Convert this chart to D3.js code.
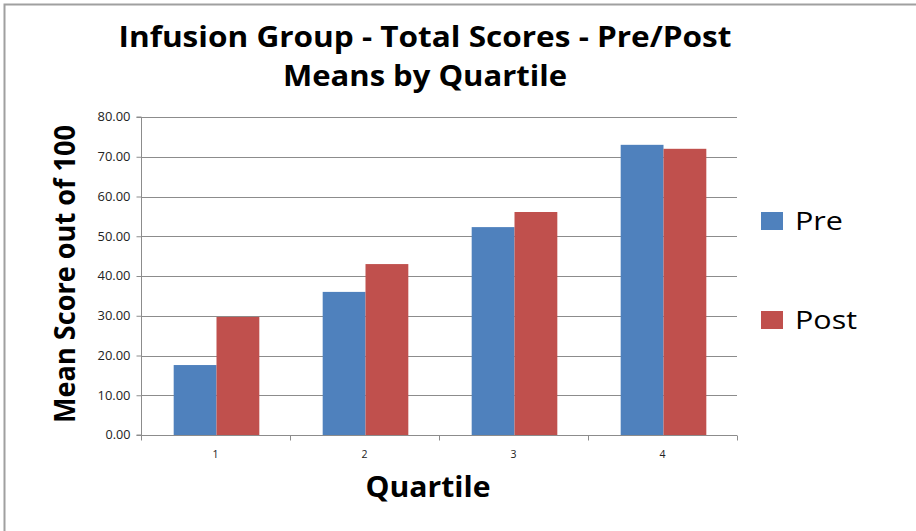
<!DOCTYPE html>
<html lang="en">
<head>
  <meta charset="UTF-8">
  <title>Infusion Group - Total Scores</title>
  <script src="https://cdn.jsdelivr.net/npm/d3@7/dist/d3.min.js"></script>
  <style>
    body { margin: 0; background: #fff; }
    text { font-family: "Open Sans", sans-serif; }
  </style>
</head>
<body>
  <div id="box"></div>
  <script>
    // data
    const quartiles = ['1', '2', '3', '4']
    const seriesNames = ['Pre', 'Post']
    const preScores = [17.6, 36.0, 52.3, 73.0]
    const postScores = [29.7, 43.0, 56.1, 72.0]
    const yTicks = [0, 10, 20, 30, 40, 50, 60, 70, 80]
    const colors = ['#4F81BD', '#C0504D']

    const width = 916
    const height = 531
    const margin = { left: 141, right: 179, top: 117, bottom: 96 }

    const svg = d3.select('#box').append('svg')
      .attr('width', width)
      .attr('height', height)

    // page frame
    svg.append('path')
      .attr('d', `M4.5,${height} V4.5 H${width}`)
      .attr('fill', 'none')
      .attr('stroke', '#a0a0a0')
      .attr('stroke-width', 2)

    const x = d3.scaleBand().domain(quartiles)
      .range([margin.left, width - margin.right])
    const inner = d3.scaleBand().domain(seriesNames)
      .range([0, x.bandwidth()]).paddingOuter(0.74)
    const y = d3.scaleLinear().domain([0, 80])
      .range([height - margin.bottom, margin.top])

    // gridlines
    svg.append('g').selectAll('line')
      .data(yTicks.slice(1))
      .join('line')
      .attr('x1', margin.left).attr('x2', width - margin.right)
      .attr('y1', d => Math.round(y(d)) + 0.5).attr('y2', d => Math.round(y(d)) + 0.5)
      .attr('stroke', '#8c8c8c')

    // bars
    const rows = quartiles.map((q, i) => ({ q, values: [preScores[i], postScores[i]] }))
    const groups = svg.append('g').selectAll('g')
      .data(rows)
      .join('g')
      .attr('transform', d => `translate(${x(d.q) + 1},0)`)
    groups.selectAll('rect')
      .data(d => d.values.map((v, j) => ({ name: seriesNames[j], v, j })))
      .join('rect')
      .attr('x', d => inner(d.name))
      .attr('width', inner.bandwidth())
      .attr('y', d => y(d.v))
      .attr('height', d => y(0) - y(d.v))
      .attr('fill', d => colors[d.j])

    // y axis
    const yAxis = d3.axisLeft(y).tickValues(yTicks).tickFormat(d3.format('.2f')).tickSize(5).tickPadding(6)
    const gy = svg.append('g')
      .attr('transform', `translate(${margin.left + 0.5},0)`)
      .call(yAxis)
    gy.selectAll('text').attr('font-size', 12).attr('fill', '#222')
      .attr('textLength', d => d === 0 ? 25 : 33)
      .attr('lengthAdjust', 'spacingAndGlyphs')
      .style('font-family', '"Open Sans", sans-serif')
    gy.selectAll('line, path').attr('stroke', '#8c8c8c')
    gy.select('.domain').attr('d', `M-5,${y(80)}H0V${y(0)}H-5`)

    // x axis, ticks between categories
    const gx = svg.append('g')
      .attr('transform', `translate(0,${y(0) + 0.5})`)
    gx.append('line')
      .attr('x1', margin.left).attr('x2', width - margin.right)
      .attr('stroke', '#8c8c8c')
    const bounds = quartiles.map(q => x(q)).concat([x.range()[1]])
    gx.selectAll('.tk').data(bounds).join('line')
      .attr('class', 'tk')
      .attr('x1', d => Math.round(d) + 0.5).attr('x2', d => Math.round(d) + 0.5)
      .attr('y1', 0).attr('y2', 5)
      .attr('stroke', '#8c8c8c')
    gx.selectAll('.lbl').data(quartiles).join('text')
      .attr('class', 'lbl')
      .attr('x', d => x(d) + x.bandwidth() / 2)
      .attr('y', 22)
      .attr('text-anchor', 'middle')
      .attr('font-size', 10.5)
      .attr('fill', '#222')
      .text(d => d)

    // titles (stretched to the reference's wide bold face)
    const big = (sel, len) => sel
      .attr('text-anchor', 'middle')
      .attr('font-size', 28)
      .attr('font-weight', 'bold')
      .attr('textLength', len)
      .attr('lengthAdjust', 'spacingAndGlyphs')

    big(svg.append('text').attr('x', 425).attr('y', 47), 613)
      .text('Infusion Group - Total Scores - Pre/Post')
    big(svg.append('text').attr('x', 425).attr('y', 86), 284)
      .text('Means by Quartile')

    big(svg.append('text').attr('transform', 'translate(75,274) rotate(-90)'), 298)
      .text('Mean Score out of 100')

    big(svg.append('text').attr('x', 428).attr('y', 497), 125)
      .text('Quartile')

    // legend
    const legendWidths = [48, 62]
    const legend = svg.append('g').selectAll('g')
      .data(seriesNames)
      .join('g')
      .attr('transform', (d, i) => `translate(761,${212 + i * 99})`)
    legend.append('rect')
      .attr('width', 22).attr('height', 18)
      .attr('fill', (d, i) => colors[i])
    legend.append('text')
      .attr('x', 34).attr('y', 18)
      .attr('font-size', 26)
      .attr('fill', '#000')
      .attr('textLength', (d, i) => legendWidths[i])
      .attr('lengthAdjust', 'spacingAndGlyphs')
      .text(d => d)
  </script>
</body>
</html>
